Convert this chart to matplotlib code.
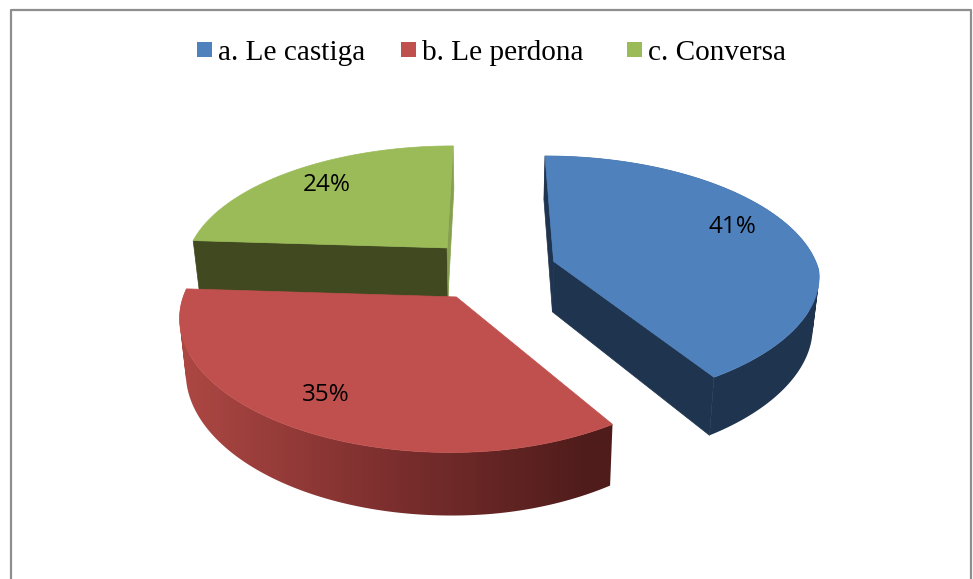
import matplotlib
matplotlib.use("Agg")
import matplotlib.pyplot as plt
import numpy as np
from matplotlib.patches import PathPatch, Rectangle
from matplotlib.path import Path

# data
categories = ["a. Le castiga", "b. Le perdona", "c. Conversa"]
values = [41, 35, 24]
labels = ["41%", "35%", "24%"]
colors = ["#4F81BD", "#C0504D", "#9BBB59"]

# 3d look, everything in pixels of the 973x579 picture
R = 265
EXPLODE = 66
X0 = 491           # vanishing point
Y_H = -500
H_TOP = 770
DEPTH = 51
F_BACK = 1630
FY_FRONT = 1680
FX_RIGHT = 2600
FX_LEFT = 1900
BOTTOM_X = 0.98


def project(px, py, low=False):
    px = np.asarray(px, dtype=float)
    py = np.asarray(py, dtype=float)
    fx = np.where(py > 0, F_BACK, np.where(px > 0, FX_RIGHT, FX_LEFT))
    sx = 1 / (1 + py / fx)
    sy = 1 / (1 + py / np.where(py > 0, F_BACK, FY_FRONT))
    h = H_TOP + DEPTH if low else H_TOP
    x = px * sx
    if low:
        x = x * BOTTOM_X
    return X0 + x, Y_H + h * sy


def slice_points(start, end):
    # angles clockwise from 12 o'clock, degrees
    mid = np.radians((start + end) / 2)
    ax_ = EXPLODE * np.sin(mid)
    ay_ = EXPLODE * np.cos(mid)
    t = np.radians(np.linspace(start, end, 160))
    return ax_, ay_, ax_ + R * np.sin(t), ay_ + R * np.cos(t)


def wall(ax, p1, p2, color):
    xa, ya = project(p1[0], p1[1])
    xb, yb = project(p2[0], p2[1])
    xc, yc = project(p2[0], p2[1], True)
    xd, yd = project(p1[0], p1[1], True)
    ax.fill([xa, xb, xc, xd], [ya, yb, yc, yd], color=color, lw=0.5)


def side_path(px, py):
    # one path made of many quads, same winding, so no seams between them
    xt, yt = project(px, py)
    xb, yb = project(px, py, True)
    verts = []
    codes = []
    for i in range(len(px) - 1):
        q = [(xt[i], yt[i]), (xt[i + 1], yt[i + 1]), (xb[i + 1], yb[i + 1]), (xb[i], yb[i])]
        area = sum(q[k][0] * q[(k + 1) % 4][1] - q[(k + 1) % 4][0] * q[k][1] for k in range(4))
        if area < 0:
            q = q[::-1]
        verts += q + [q[0]]
        codes += [Path.MOVETO, Path.LINETO, Path.LINETO, Path.LINETO, Path.CLOSEPOLY]
    return Path(verts, codes)


def top_face(ax, a_x, a_y, px, py, color):
    xs, ys = project(np.r_[a_x, px], np.r_[a_y, py])
    ax.fill(xs, ys, color=color, lw=0.5)


fig = plt.figure(figsize=(9.73, 5.79), dpi=100)
ax = fig.add_axes([0, 0, 1, 1])

# chart frame
ax.plot([10.5, 10.5, 970.5, 970.5], [579, 10, 10, 579], color="#8E8E8E", lw=1.6)

# slice angles from the values
total = sum(values)
edges = np.concatenate([[0], np.cumsum(values)]) / total * 360
geo = [slice_points(edges[i], edges[i + 1]) for i in range(3)]

# green, at the back
a_x, a_y, px, py = geo[2]
wall(ax, (px[0], py[0]), (a_x, a_y), "#40491F")
wall(ax, (a_x, a_y), (px[-1], py[-1]), "#86A04F")
top_face(ax, a_x, a_y, px, py, colors[2])

# red, side goes from light on the left to dark on the right
a_x, a_y, px, py = geo[1]
grad = matplotlib.colors.LinearSegmentedColormap.from_list("side", ["#AC4743", "#7C2F2E", "#4F1C1B"])
ramp = np.clip((np.linspace(170, 620, 450) - 185) / (590 - 185), 0, 1).reshape(1, -1)
img = ax.imshow(ramp, extent=(170, 620, 520, 280), cmap=grad, aspect="auto", interpolation="bilinear")
img.set_clip_path(side_path(px, py), transform=ax.transData)
top_face(ax, a_x, a_y, px, py, colors[1])

# blue
a_x, a_y, px, py = geo[0]
wall(ax, (a_x, a_y), (px[0], py[0]), "#1F344F")
ax.add_patch(PathPatch(side_path(px, py), facecolor="#1F344F", edgecolor="none"))
wall(ax, (a_x, a_y), (px[-1], py[-1]), "#1F344F")
top_face(ax, a_x, a_y, px, py, colors[0])

# percent labels
label_pos = [(732, 227), (326, 395), (327, 185)]
for lab, pos in zip(labels, label_pos):
    ax.text(pos[0], pos[1], lab, ha="center", va="center", fontsize=17.5,
            family="Open Sans", color="black")

# legend
legend_x = [197, 401, 627]
for name, col, x in zip(categories, colors, legend_x):
    ax.add_patch(Rectangle((x, 42), 15, 15, color=col, lw=0))
    ax.text(x + 21, 60, name, ha="left", va="baseline", fontsize=21.1,
            family="Liberation Serif", color="black")

ax.set_xlim(0, 973)
ax.set_ylim(579, 0)
ax.axis("off")

fig.savefig("out.png", dpi=100)
